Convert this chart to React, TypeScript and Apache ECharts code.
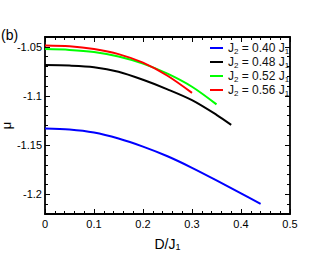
import React, { useEffect, useRef } from "react";
import * as echarts from "echarts";

const seriesNames = ["0.40", "0.48", "0.52", "0.56"];
const seriesColors = ["#0000ff", "#000000", "#00ff00", "#ff0000"];

const muJ040: [number, number][] = [
  [0, -1.1331], [0.05, -1.1341], [0.1, -1.1372], [0.15, -1.1433], [0.2, -1.1515],
  [0.25, -1.1613], [0.3, -1.173], [0.35, -1.1858], [0.4, -1.1991], [0.44, -1.2097],
];
const muJ048: [number, number][] = [
  [0, -1.0686], [0.05, -1.0691], [0.1, -1.0707], [0.15, -1.0753], [0.2, -1.0835],
  [0.25, -1.0932], [0.3, -1.1042], [0.35, -1.1191], [0.38, -1.1293],
];
const muJ052: [number, number][] = [
  [0, -1.0523], [0.05, -1.0531], [0.1, -1.0553], [0.15, -1.0599], [0.2, -1.0671],
  [0.25, -1.0773], [0.3, -1.0906], [0.35, -1.1085],
];
const muJ056: [number, number][] = [
  [0, -1.0487], [0.05, -1.0495], [0.1, -1.0523], [0.15, -1.0574], [0.2, -1.0661],
  [0.25, -1.0794], [0.3, -1.0968],
];

const yMajorTicks = [-1.2, -1.15, -1.1, -1.05];
const xTickLabels = ["0", "0.1", "0.2", "0.3", "0.4", "0.5"];

export default function App() {
  const ref = useRef<HTMLDivElement>(null);
  useEffect(() => {
    if (!ref.current) return;
    const chart = echarts.init(ref.current, undefined, { renderer: "svg" });
    const font = "'Liberation Sans', Arial, sans-serif";
    const lineC = { color: "#000", width: 1.8 };
    const allData = [muJ040, muJ048, muJ052, muJ056];
    const yMinor = { min: -1.22, max: -1.04, interval: 0.01 };
    chart.setOption({
      animation: false,
      textStyle: { fontFamily: font },
      title: {
        text: "(b)", left: 1, top: 27, padding: 0,
        textStyle: { fontSize: 14, fontWeight: "normal", color: "#000", fontFamily: font, lineHeight: 16 },
      },
      grid: { left: 45, right: 37, top: 37, bottom: 39, outerBoundsMode: "none", containLabel: false },
      legend: {
        orient: "vertical", left: 210, top: 41, padding: 0, itemGap: 0,
        itemWidth: 13, itemHeight: 2, icon: "rect",
        data: seriesNames,
        formatter: (name: string) => `{a|J}{s|2}{a| = ${name} J}{s|1}`,
        textStyle: {
          color: "#111",
          rich: {
            a: { fontSize: 12, lineHeight: 14, fontFamily: font, color: "#111" },
            s: { fontSize: 8, lineHeight: 8, fontFamily: font, color: "#111", verticalAlign: "bottom", padding: [6, 0, 0, 0] },
          },
        },
      },
      xAxis: [
        {
          type: "value", min: 0, max: 0.5, interval: 0.1, position: "bottom",
          axisLine: { lineStyle: lineC },
          axisTick: { inside: true, length: 5, lineStyle: { color: "#000", width: 1 } },
          minorTick: { show: true, splitNumber: 5, length: 3, lineStyle: { color: "#000", width: 1 } },
          splitLine: { show: false },
          axisLabel: {
            color: "#000", fontSize: 11, margin: 4, fontFamily: font,
            formatter: (v: number) => xTickLabels[Math.round(v * 10)] ?? "",
          },
          name: "{a|D/J}{s|1}", nameLocation: "middle", nameGap: 19,
          nameTextStyle: {
            rich: {
              a: { fontSize: 14, lineHeight: 16, fontFamily: font, color: "#000" },
              s: { fontSize: 9, lineHeight: 9, fontFamily: font, color: "#000", verticalAlign: "bottom", padding: [9, 0, 0, 0] },
            },
          },
        },
        {
          type: "value", min: 0, max: 0.5, interval: 0.1, position: "top",
          axisLine: { lineStyle: lineC },
          axisTick: { inside: true, length: 5, lineStyle: { color: "#000", width: 1 } },
          minorTick: { show: true, splitNumber: 5, length: 3, lineStyle: { color: "#000", width: 1 } },
          splitLine: { show: false },
          axisLabel: { show: false },
        },
      ],
      yAxis: [
        {
          type: "value", ...yMinor, position: "left",
          axisLine: { show: true, lineStyle: lineC },
          axisTick: { inside: true, length: 3, lineStyle: { color: "#000", width: 1 } },
          splitLine: { show: false },
          axisLabel: {
            color: "#000", fontSize: 11, margin: 3, fontFamily: font,
            customValues: yMajorTicks,
            formatter: (v: number) => String(Math.round(v * 100) / 100),
          },
          name: "μ", nameLocation: "middle", nameGap: 32, nameMoveOverlap: false,
          nameTextStyle: { fontSize: 13, lineHeight: 13, color: "#000", fontFamily: font },
        },
        {
          type: "value", ...yMinor, position: "left",
          axisLine: { show: false },
          axisTick: { inside: true, length: 5, customValues: yMajorTicks, lineStyle: { color: "#000", width: 1 } },
          splitLine: { show: false },
          axisLabel: { show: false },
        },
        {
          type: "value", ...yMinor, position: "right",
          axisLine: { show: true, lineStyle: lineC },
          axisTick: { inside: true, length: 3, lineStyle: { color: "#000", width: 1 } },
          splitLine: { show: false },
          axisLabel: { show: false },
        },
        {
          type: "value", ...yMinor, position: "right",
          axisLine: { show: false },
          axisTick: { inside: true, length: 5, customValues: yMajorTicks, lineStyle: { color: "#000", width: 1 } },
          splitLine: { show: false },
          axisLabel: { show: false },
        },
      ],
      series: seriesNames.map((name, i) => ({
        name,
        type: "line",
        data: allData[i],
        smooth: 0.3,
        showSymbol: false,
        symbol: "none",
        color: seriesColors[i],
        lineStyle: { color: seriesColors[i], width: 2 },
        xAxisIndex: 0,
        yAxisIndex: 0,
      })),
    });
    return () => chart.dispose();
  }, []);
  return <div ref={ref} style={{ width: 327, height: 253, position: "absolute", left: 0, top: 0 }} />;
}
